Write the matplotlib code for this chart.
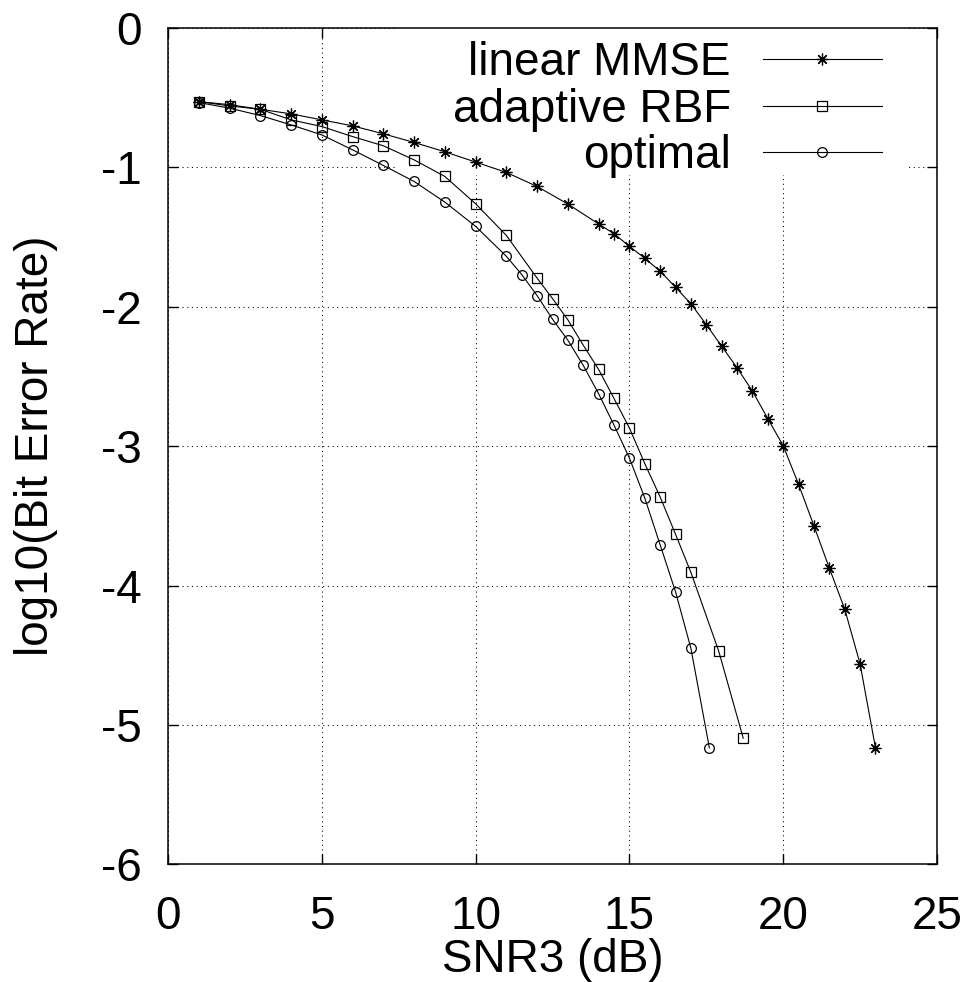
import matplotlib
matplotlib.use("Agg")
import matplotlib.pyplot as plt
from matplotlib.patches import Rectangle

plt.rcParams['font.family'] = ['Liberation Sans', 'DejaVu Sans']

# ---- data ----
snr_mmse = [1, 2, 3, 4, 5, 6, 7, 8, 9, 10, 11, 12, 13, 14, 14.5, 15, 15.5, 16,
            16.5, 17, 17.5, 18, 18.5, 19, 19.5, 20, 20.5, 21, 21.5, 22, 22.5, 23]
ber_mmse = [-0.528, -0.55, -0.583, -0.616, -0.659, -0.702, -0.759, -0.821, -0.888,
            -0.962, -1.036, -1.137, -1.263, -1.406, -1.476, -1.566, -1.652, -1.745,
            -1.860, -1.979, -2.128, -2.283, -2.438, -2.605, -2.803, -2.997, -3.274,
            -3.572, -3.875, -4.169, -4.563, -5.165]

snr_rbf = [1, 2, 3, 4, 5, 6, 7, 8, 9, 10, 11, 12, 12.5, 13, 13.5, 14, 14.5, 15,
           15.5, 16, 16.5, 17, 17.9, 18.7]
ber_rbf = [-0.528, -0.559, -0.583, -0.659, -0.707, -0.779, -0.845, -0.946, -1.065,
           -1.261, -1.488, -1.795, -1.941, -2.094, -2.276, -2.450, -2.658, -2.870,
           -3.125, -3.365, -3.632, -3.906, -4.468, -5.095]

snr_opt = [1, 2, 3, 4, 5, 6, 7, 8, 9, 10, 11, 11.5, 12, 12.5, 13, 13.5, 14, 14.5,
           15, 15.5, 16, 16.5, 17, 17.6]
ber_opt = [-0.535, -0.575, -0.628, -0.695, -0.767, -0.874, -0.986, -1.101, -1.249,
           -1.423, -1.638, -1.769, -1.920, -2.089, -2.240, -2.421, -2.624, -2.849,
           -3.085, -3.372, -3.708, -4.045, -4.451, -5.165]

series_labels = ['linear MMSE', 'adaptive RBF', 'optimal']
x_ticks = [0, 5, 10, 15, 20, 25]
y_ticks = [0, -1, -2, -3, -4, -5, -6]

# ---- figure ----
fig = plt.figure(figsize=(9.67, 9.82), dpi=100)
ax = fig.add_axes([168/967, 1 - 864.3/982, (937 - 168)/967, (864.3 - 28)/982])

FS = 33
lw = 0.8
ax.plot(snr_mmse, ber_mmse, color='black', lw=lw, marker=(8, 2, 0), ms=8.5,
        mew=0.9, label=series_labels[0], zorder=3)
ax.plot(snr_rbf, ber_rbf, color='black', lw=lw, marker='s', ms=7, mfc='none',
        mew=0.9, label=series_labels[1], zorder=3)
ax.plot(snr_opt, ber_opt, color='black', lw=lw, marker='o', ms=7, mfc='none',
        mew=0.9, label=series_labels[2], zorder=3)

ax.set_xlim(0, 25)
ax.set_ylim(-6, 0)
ax.set_xticks(x_ticks)
ax.set_yticks(y_ticks)
ax.set_xticklabels([str(v) for v in x_ticks])
ax.set_yticklabels([str(v) for v in y_ticks])

ax.set_axisbelow(True)
ax.grid(True, color='black', lw=0.75, linestyle=(0, (1, 3.5)))

for s in ax.spines.values():
    s.set_linewidth(1.1)

ax.tick_params(axis='both', which='both', direction='in', length=7, width=1,
               top=True, right=True, labelsize=FS)
ax.tick_params(axis='x', pad=22)
ax.tick_params(axis='y', pad=19)

ax.set_xlabel('SNR3 (dB)', fontsize=FS)
ax.set_ylabel('log10(Bit Error Rate)', fontsize=FS)
ax.xaxis.set_label_coords(0.5, -0.088)
ax.yaxis.set_label_coords(-0.143, 0.5)

# blank area behind the key (grid interrupted there)
ax.add_patch(Rectangle((0.299, 0.824), 0.663, 0.2, transform=ax.transAxes,
                       facecolor='white', edgecolor='none', zorder=1))

leg = ax.legend(loc='upper right', bbox_to_anchor=(0.9285, 0.984),
                frameon=False, markerfirst=False, alignment='right',
                fontsize=FS, handlelength=2.6, handletextpad=0.7,
                labelspacing=0.055, borderpad=0.0, borderaxespad=0.0)

fig.savefig('out.png', dpi=100)
